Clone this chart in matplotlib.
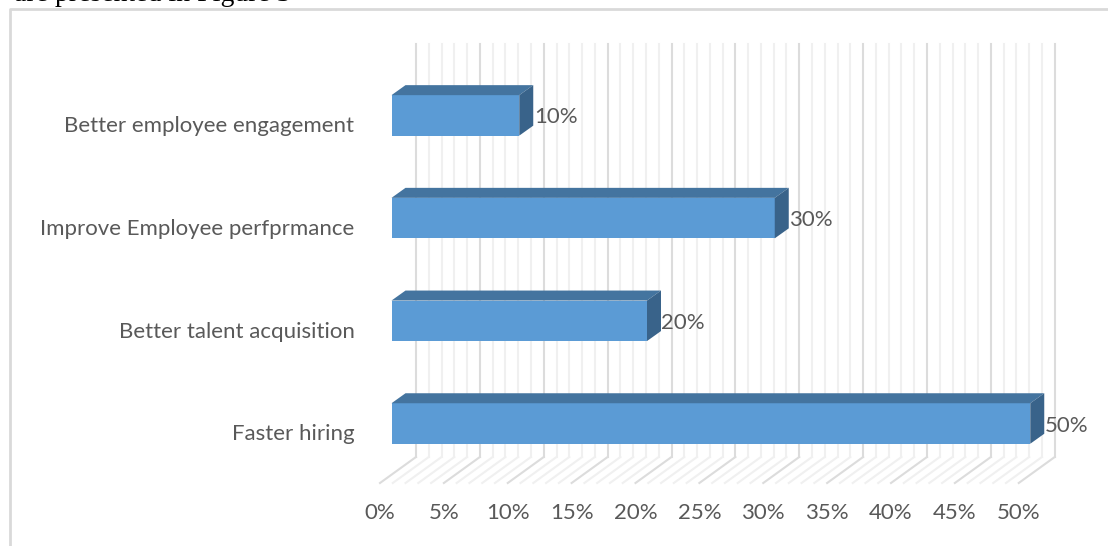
import matplotlib
matplotlib.use("Agg")
import matplotlib.pyplot as plt
from matplotlib.patches import Polygon
from matplotlib.transforms import Affine2D

categories = ["Faster hiring", "Better talent acquisition",
              "Improve Employee perfprmance", "Better employee engagement"]
values = [50, 20, 30, 10]
tick_values = list(range(0, 55, 5))
minor_values = list(range(0, 51))

W, H = 1108, 546
PX_PER_PCT = 12.775
ROW_PX = 102.7
BAR_PX = 40.5
Y0 = 423.5  # pixel row of the lowest bar's centre, from the top

plt.rcParams["font.family"] = "Lato"
fig = plt.figure(figsize=(W / 100, H / 100), dpi=100)

# axes cover the whole figure so the scales can be set from pixel positions
ax = fig.add_axes([0, 0, 1, 1])
ax.set_xlim(-391.5 / PX_PER_PCT, (W - 391.5) / PX_PER_PCT)
ax.set_ylim(-(H - Y0) / ROW_PX, Y0 / ROW_PX)
ax.axis("off")

# back wall and floor grid of the 3d box
wall_shift = ax.transData + Affine2D().translate(24.5, 0)
wall_bottom = (Y0 - 457) / ROW_PX
wall_top = (Y0 - 44) / ROW_PX
for v in minor_values:
    major = v % 5 == 0
    col = "#dcdcdc" if major else "#f0f0f0"
    ax.plot([v, v], [wall_bottom, wall_top], color=col, lw=1.5,
            transform=wall_shift, clip_on=False, zorder=1)
    bx, by = ax.transData.transform((v, 0))
    ax.plot([bx - 11.5, bx + 24.5], [H - 483, H - 457], color=col, lw=1.5,
            transform=None, zorder=1)

# bars: front from barh, top and side faces as polygons
depth_x = 14 / PX_PER_PCT
depth_y = 10 / ROW_PX
half = BAR_PX / 2 / ROW_PX
for i, v in enumerate(values):
    ax.barh(i, v, height=2 * half, color="#5b9bd5", zorder=3)
    ax.add_patch(Polygon([(0, i + half), (v, i + half), (v + depth_x, i + half + depth_y),
                          (depth_x, i + half + depth_y)], closed=True,
                         facecolor="#44749f", edgecolor="none", zorder=3))
    ax.add_patch(Polygon([(v, i - half), (v + depth_x, i - half + depth_y),
                          (v + depth_x, i + half + depth_y), (v, i + half)], closed=True,
                         facecolor="#39638a", edgecolor="none", zorder=3))
    ax.annotate(f"{v}%", (v, i), xytext=(14.5, -2), textcoords="offset pixels",
                fontsize=16, color="#595959", va="center", ha="left", zorder=4)
    ax.annotate(categories[i], (0, i), xytext=(-37, -11),
                textcoords="offset pixels", fontsize=16, color="#595959",
                va="center", ha="right")

for v in tick_values:
    ax.annotate(f"{v}%", (v, 0), xytext=(-11.5, -(513 - Y0)), textcoords="offset pixels",
                fontsize=16, color="#595959", va="center", ha="center")

# chart frame, running off the page to the right and bottom
fig.add_artist(plt.Line2D([9.5 / W, 9.5 / W, 1], [0, 1 - 9 / H, 1 - 9 / H],
                          color="#d9d9d9", lw=2))

# line of body text above the chart, cut by the top edge
fig.text(14 / W, 1 - 1 / H, "are presented in Figure 3", family="Liberation Serif",
         fontsize=20, color="black", va="baseline", ha="left")

fig.savefig("out.png", dpi=100)
